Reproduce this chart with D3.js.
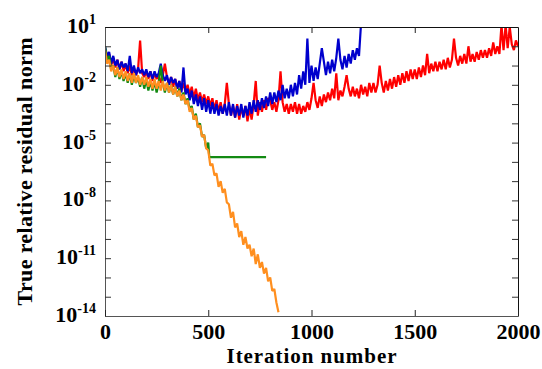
<!DOCTYPE html>
<html>
<head>
<meta charset="utf-8">
<script src="https://cdn.jsdelivr.net/npm/d3@7/dist/d3.min.js"></script>
<style>
  body { margin: 0; background: #fff; }
  svg, svg text { font-family: "Liberation Serif", "Times New Roman", Times, serif; font-weight: bold; }
  svg text { fill: #000; }
</style>
</head>
<body>
<div class="container"></div>
<script>
const WIDTH = 542, HEIGHT = 369;
const MARGIN = { top: 27, right: 24, bottom: 53, left: 105 };
const FONT = '"Liberation Serif", "Times New Roman", Times, serif';

// every series is sampled each STEP iterations starting at 0
// values are log10 of the true relative residual norm
const STEP = 10;

const redLog = [
  -0.1,-0.7,-0.4,-1.0,-0.6,-1.1,-0.7,-1.2,-0.8,-1.3,
  -0.9,-1.4,-1.0,-1.5,-1.1,-1.5,-1.2,0.3,-1.4,-1.6,
  -1.3,-1.7,-1.3,-1.8,-1.4,-1.7,-1.5,-1.9,-1.5,-0.9,
  -1.6,-2.0,-1.6,-2.1,-1.7,-2.2,-1.8,-2.3,-1.9,-2.4,
  -2.0,-2.5,-2.1,-2.7,-2.2,-2.8,-2.4,-2.9,-2.5,-3.0,
  -2.6,-3.1,-2.7,-3.3,-2.8,-3.4,-2.9,-3.5,-3.0,-1.9,
  -3.0,-3.6,-3.1,-3.7,-3.0,-3.8,-3.2,-3.6,-3.1,-3.9,
  -3.2,-3.8,-3.0,-1.8,-3.6,-2.9,-3.4,-2.8,-3.3,-2.7,
  -2.8,-3.3,-2.9,-3.4,-2.8,-1.3,-2.9,-3.4,-3.0,-3.5,
  -3.0,-3.4,-2.9,-3.5,-3.0,-3.5,-3.1,-3.4,-2.9,-3.3,
  -2.7,-1.9,-2.8,-3.2,-2.6,-3.1,-2.5,-2.9,-2.4,-2.8,
  -2.2,-2.7,-1.4,-2.8,-2.3,-2.6,-2.1,-1.5,-2.2,-2.6,
  -2.1,-2.6,-2.2,-2.7,-2.0,-2.5,-2.1,-2.6,-1.9,-2.4,
  -1.9,-2.4,-2.0,-1.0,-1.9,-2.4,-1.8,-2.3,-1.7,-2.2,
  -1.6,-2.1,-1.5,-2.0,-1.4,-1.9,-1.3,-1.8,-1.2,-1.7,
  -1.2,-1.7,-1.1,-1.6,-1.0,-1.5,-0.4,-1.4,-0.9,-1.3,
  -0.8,-1.3,-0.8,-1.2,-0.7,-1.2,-0.6,-1.1,-0.7,0.4,
  -0.6,-1.0,-0.5,-0.9,-0.4,-0.9,0.0,-0.8,-0.4,-0.8,
  -0.3,-0.7,-0.2,-0.6,-0.2,-0.6,-0.1,-0.5,0.2,-0.4,
  0.0,-0.4,1.1,-0.2,1.1,-0.1,1.0,0.1,-0.2,0.3,0.0
];

const blueLog = [
  0.0,-0.5,-0.3,-0.9,-0.5,-1.0,-0.7,-1.2,-0.8,-1.1,
  -0.9,-1.3,-0.5,-1.4,-1.0,-1.5,-1.1,-1.4,-1.2,-1.5,
  -1.2,-1.6,-1.3,-1.7,-1.3,-1.6,-1.4,-0.9,-1.5,-1.8,
  -1.5,-2.0,-1.6,-1.9,-1.7,-2.2,-1.8,-2.4,-1.1,-2.5,
  -2.2,-2.8,-2.3,-3.0,-2.5,-3.1,-2.6,-3.3,-2.7,-3.4,
  -2.8,-3.5,-2.9,-3.5,-3.0,-3.6,-3.1,-3.5,-3.0,-3.6,
  -2.9,-3.6,-3.0,-3.7,-3.1,-3.6,-3.0,-3.7,-3.1,-3.6,
  -2.9,-3.5,-2.8,-3.4,-2.8,-3.3,-2.7,-3.2,-2.6,-3.1,
  -2.4,-3.0,-2.4,-2.9,-2.3,-2.8,-2.0,-2.7,-2.2,-2.7,
  -2.0,-2.6,-1.9,-2.5,-1.5,-2.2,-1.3,-2.0,0.4,-1.9,
  -1.0,-1.8,-1.1,-1.7,-0.9,-0.1,-0.8,-1.5,-0.8,-1.4,
  -0.7,-1.3,-0.6,0.4,-0.7,-1.2,-0.5,-1.1,-0.4,-0.9,
  -0.2,-0.7,-0.1,-0.5,1.2
];

const greenLog = [
  0.0,-0.8,-0.5,-1.2,-1.0,-1.6,-1.1,-1.7,-1.3,-1.8,
  -1.4,-1.9,-1.4,-2.0,-1.5,-1.9,-1.6,-2.1,-1.6,-2.2,
  -1.7,-2.3,-1.8,-2.3,-1.8,-2.4,-1.9,-1.0,-1.9,-2.4,
  -1.9,-2.4,-2.0,-2.5,-2.1,-2.6,-2.2,-2.8,-2.4,-3.0,
  -2.7,-3.3,-3.1,-3.8,-3.5,-4.2,-4.0,-4.7,-4.6,-5.3,
  -5.0
];
// green stalls after iteration 500: [iteration, log10 value]
const greenStall = [[505, -5.75], [780, -5.75]];

const orangeLog = [
  -0.2,-0.9,-0.7,-1.3,-1.0,-1.5,-1.1,-1.6,-1.2,-1.7,
  -1.3,-1.8,-1.4,-1.9,-1.4,-1.9,-1.5,-2.0,-1.6,-2.0,
  -1.6,-2.1,-1.7,-2.2,-1.7,-2.2,-1.8,-2.3,-1.8,-2.3,
  -1.9,-2.4,-2.0,-2.5,-2.1,-2.6,-2.3,-2.8,-2.5,-3.0,
  -2.8,-3.4,-3.2,-3.8,-3.6,-4.2,-4.1,-4.7,-4.6,-5.3,
  -5.4,-6.2,-6.1,-6.7,-6.6,-7.3,-7.0,-7.6,-7.4,-8.1,
  -8.2,-8.9,-8.6,-9.4,-9.2,-9.9,-9.6,-10.3,-9.9,-10.5,
  -10.3,-10.9,-10.5,-11.3,-10.8,-11.5,-11.2,-11.8,-11.5,-12.2,
  -12.0,-12.7,-12.6,-13.3,-13.8
];

const xTicks = [0, 500, 1000, 1500, 2000];
const yLabelExps = [1, -2, -5, -8, -11, -14];

const toPoints = exps => exps.map((e, i) => ({ it: i * STEP, val: Math.pow(10, e) }));

const series = [
  { points: toPoints(redLog), color: "#ff0000" },
  { points: toPoints(blueLog), color: "#0000cd" },
  { points: toPoints(greenLog).concat(greenStall.map(([it, e]) => ({ it, val: Math.pow(10, e) }))), color: "#138a13" },
  { points: toPoints(orangeLog), color: "#ff8f1f" }
];

const svg = d3.select(".container").append("svg")
  .attr("width", WIDTH)
  .attr("height", HEIGHT)
  .attr("font-family", FONT);

const x = d3.scaleLinear()
  .domain([0, 2000])
  .range([MARGIN.left, WIDTH - MARGIN.right]);

const y = d3.scaleLog()
  .domain([1e-14, 1e1])
  .range([HEIGHT - MARGIN.bottom, MARGIN.top]);

svg.append("defs").append("clipPath")
  .attr("id", "plot-clip")
  .append("rect")
  .attr("x", MARGIN.left)
  .attr("y", MARGIN.top)
  .attr("width", WIDTH - MARGIN.left - MARGIN.right)
  .attr("height", HEIGHT - MARGIN.top - MARGIN.bottom);

const line = d3.line()
  .x(d => x(d.it))
  .y(d => y(d.val));

svg.append("g")
  .attr("clip-path", "url(#plot-clip)")
  .selectAll("path")
  .data(series)
  .enter()
  .append("path")
  .attr("fill", "none")
  .attr("stroke", d => d.color)
  .attr("stroke-width", 2.2)
  .attr("stroke-linejoin", "bevel")
  .attr("d", d => line(d.points));

const decades = d3.range(-14, 2).map(e => Math.pow(10, e));

const leftAxis = svg.append("g")
  .attr("transform", `translate(${MARGIN.left},0)`)
  .call(d3.axisLeft(y).tickValues(decades).tickSize(-6).tickSizeOuter(0).tickFormat(""));
leftAxis.select(".domain").attr("stroke", "#555");
leftAxis.selectAll(".tick line").attr("stroke", "#333");

const rightAxis = svg.append("g")
  .attr("transform", `translate(${WIDTH - MARGIN.right},0)`)
  .call(d3.axisRight(y).tickValues(decades).tickSize(-6).tickSizeOuter(0).tickFormat(""));
rightAxis.select(".domain").attr("stroke", "#111");
rightAxis.selectAll(".tick line").attr("stroke", "#333");

const topAxis = svg.append("g")
  .attr("transform", `translate(0,${MARGIN.top})`)
  .call(d3.axisTop(x).tickValues([500, 1000, 1500]).tickSize(-6).tickSizeOuter(0).tickFormat(""));
topAxis.select(".domain").attr("stroke", "#111");
topAxis.selectAll(".tick line").attr("stroke", "#222");

const bottomAxis = svg.append("g")
  .attr("transform", `translate(0,${HEIGHT - MARGIN.bottom})`)
  .call(d3.axisBottom(x).tickValues(xTicks).tickSize(-6).tickSizeOuter(0)
    .tickPadding(7).tickFormat(d3.format("d")));
bottomAxis.attr("font-family", FONT).attr("font-size", 22);
bottomAxis.select(".domain").attr("stroke", "#555");
bottomAxis.selectAll(".tick line").attr("stroke", "#222");
bottomAxis.selectAll(".tick text")
  .attr("font-family", FONT)
  .attr("font-size", 22)
  .attr("font-weight", "bold");

// 10^n labels on the left
const yLabels = svg.append("g")
  .selectAll("text")
  .data(yLabelExps)
  .enter()
  .append("text")
  .attr("x", MARGIN.left - 9)
  .attr("y", d => y(Math.pow(10, d)) + 6)
  .attr("font-family", FONT)
  .attr("font-weight", "bold")
  .attr("text-anchor", "end");
yLabels.append("tspan")
  .attr("font-size", 22)
  .text("10");
yLabels.append("tspan")
  .attr("dy", -9)
  .attr("font-size", 14)
  .text(d => d < 0 ? "-" + Math.abs(d) : String(d));

svg.append("text")
  .attr("x", (MARGIN.left + WIDTH - MARGIN.right) / 2)
  .attr("y", 363)
  .attr("text-anchor", "middle")
  .attr("textLength", 170)
  .attr("font-family", FONT)
  .attr("font-weight", "bold")
  .attr("font-size", 21)
  .text("Iteration number");

svg.append("text")
  .attr("transform", `translate(32,${(MARGIN.top + HEIGHT - MARGIN.bottom) / 2}) rotate(-90)`)
  .attr("text-anchor", "middle")
  .attr("textLength", 268)
  .attr("font-family", FONT)
  .attr("font-weight", "bold")
  .attr("font-size", 22)
  .text("True relative residual norm");
</script>
</body>
</html>
